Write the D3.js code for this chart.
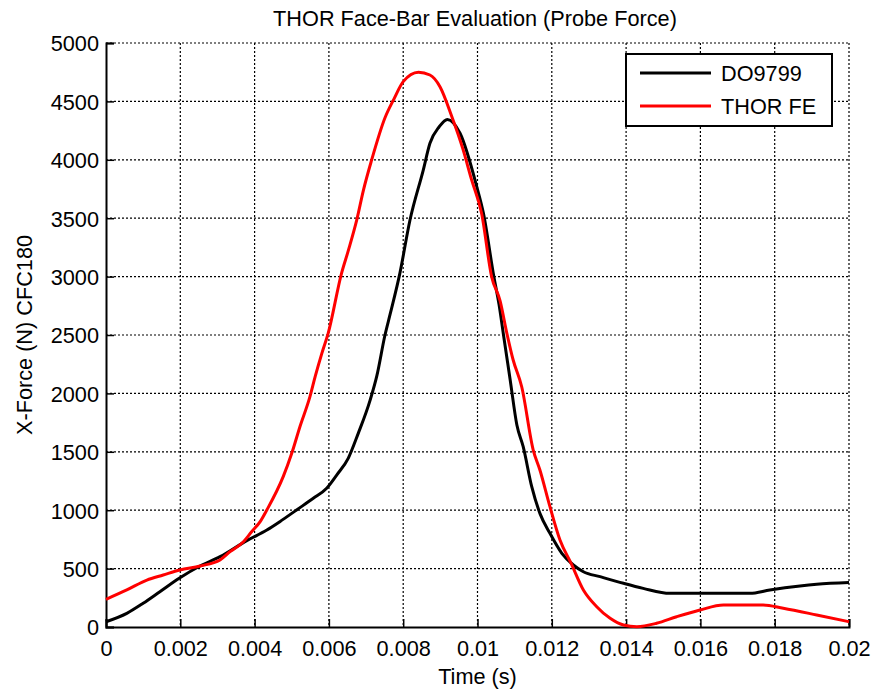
<!DOCTYPE html>
<html>
<head>
<meta charset="utf-8">
<script src="https://cdn.jsdelivr.net/npm/d3@7"></script>
<style>
  body { margin: 0; background: #fff; }
  svg text { font-family: "Liberation Sans", Arial, sans-serif; fill: #000; }
</style>
</head>
<body>
<div id="chart"></div>
<script>
// data (time in s, force in N)
var timeDO  = [0, 0.00056, 0.0010, 0.00145, 0.00197, 0.00253, 0.00307, 0.00379, 0.00433, 0.00468, 0.00513, 0.00558, 0.00594, 0.00621, 0.00652, 0.00679, 0.00711, 0.00729, 0.00751, 0.00765, 0.00791, 0.00818, 0.00854, 0.00872, 0.00897, 0.00919, 0.00953, 0.00998, 0.01016, 0.01044, 0.01058, 0.0107, 0.01088, 0.01106, 0.01123, 0.01146, 0.01168, 0.01195, 0.01227, 0.01258, 0.01285, 0.0133, 0.01393, 0.01446, 0.01518, 0.016, 0.01733, 0.01787, 0.01868, 0.01913, 0.02];
var forceDO = [45, 117, 203, 302, 417, 522, 602, 740, 830, 902, 1002, 1102, 1188, 1301, 1444, 1658, 1943, 2150, 2500, 2680, 3028, 3480, 3912, 4141, 4283, 4346, 4227, 3770, 3542, 3000, 2760, 2500, 2115, 1729, 1544, 1201, 973, 802, 631, 531, 473, 431, 374, 331, 288, 288, 288, 317, 351, 365, 380];

var timeFE  = [0, 0.00056, 0.0011, 0.00154, 0.00199, 0.00253, 0.00307, 0.00334, 0.0037, 0.00392, 0.00415, 0.00433, 0.00477, 0.005, 0.00522, 0.00549, 0.00563, 0.00581, 0.00598, 0.00634, 0.00652, 0.00675, 0.00693, 0.00715, 0.00751, 0.00775, 0.008, 0.00841, 0.00872, 0.00899, 0.00931, 0.0096, 0.00984, 0.01011, 0.01038, 0.01061, 0.01079, 0.01096, 0.01119, 0.0115, 0.01168, 0.01195, 0.01222, 0.01252, 0.01285, 0.01321, 0.01357, 0.01393, 0.01429, 0.01482, 0.01536, 0.01599, 0.01662, 0.01769, 0.01823, 0.01913, 0.02];
var forceFE = [237, 317, 402, 445, 488, 522, 574, 645, 730, 816, 902, 1002, 1287, 1487, 1715, 1972, 2143, 2343, 2514, 3028, 3220, 3485, 3741, 3998, 4360, 4520, 4669, 4750, 4726, 4626, 4369, 4100, 3830, 3542, 3000, 2790, 2515, 2286, 2057, 1515, 1344, 1030, 745, 545, 317, 174, 74, 17, 3, 32, 88, 146, 188, 188, 160, 103, 45];

var xTicks = [0, 0.002, 0.004, 0.006, 0.008, 0.01, 0.012, 0.014, 0.016, 0.018, 0.02];
var yTicks = [0, 500, 1000, 1500, 2000, 2500, 3000, 3500, 4000, 4500, 5000];
var seriesNames  = ["DO9799", "THOR FE"];
var seriesColors = ["#000000", "#ff0000"];

var W = 887, H = 690;
var margin = { top: 43, right: 38, bottom: 63, left: 106 };
var width = W - margin.left - margin.right;
var height = H - margin.top - margin.bottom;
var fontSize = "21.7px";

var svg = d3.select("#chart").append("svg")
    .attr("width", W)
    .attr("height", H);

var g = svg.append("g")
    .attr("transform", "translate(" + margin.left + "," + margin.top + ")");

var x = d3.scaleLinear().domain([0, 0.02]).range([0, width]);
var y = d3.scaleLinear().domain([0, 5000]).range([height, 0]);

var fmtX = function(d) { return d === 0 ? "0" : String(+d.toFixed(3)); };

// dotted grid (plus the top and right box edges, dotted like in the original)
g.append("g").selectAll("line").data(xTicks.slice(1)).enter().append("line")
    .attr("x1", d => x(d)).attr("x2", d => x(d))
    .attr("y1", 0).attr("y2", height)
    .attr("stroke", "#000").attr("stroke-width", 1.2)
    .attr("stroke-dasharray", "2,2");
g.append("g").selectAll("line").data(yTicks.slice(1)).enter().append("line")
    .attr("x1", 0).attr("x2", width)
    .attr("y1", d => y(d)).attr("y2", d => y(d))
    .attr("stroke", "#000").attr("stroke-width", 1.2)
    .attr("stroke-dasharray", "2,2");

// axes (ticks pointing inwards)
var xAxis = g.append("g")
    .attr("transform", "translate(0," + height + ")")
    .call(d3.axisBottom(x).tickValues(xTicks).tickSize(-8).tickPadding(14).tickFormat(fmtX));
var yAxis = g.append("g")
    .call(d3.axisLeft(y).tickValues(yTicks).tickSize(-8).tickPadding(7).tickFormat(d3.format("d")));

[xAxis, yAxis].forEach(function(a) {
  a.select(".domain").attr("stroke", "#000").attr("stroke-width", 2);
  a.selectAll(".tick line").attr("stroke", "#000").attr("stroke-width", 1.5);
  a.selectAll(".tick text").style("font-size", fontSize).attr("fill", "#000");
});
yAxis.selectAll(".tick text").attr("dy", "0.36em");

// lines
var line = d3.line()
    .x(d => x(d[0]))
    .y(d => y(d[1]))
    .curve(d3.curveMonotoneX);

var dataDO = timeDO.map((t, i) => [t, forceDO[i]]);
var dataFE = timeFE.map((t, i) => [t, forceFE[i]]);

g.append("path").datum(dataDO)
    .attr("d", line)
    .attr("fill", "none")
    .attr("stroke", seriesColors[0])
    .attr("stroke-width", 3);
g.append("path").datum(dataFE)
    .attr("d", line)
    .attr("fill", "none")
    .attr("stroke", seriesColors[1])
    .attr("stroke-width", 3);

// title and labels
svg.append("text")
    .attr("x", 475).attr("y", 26)
    .attr("text-anchor", "middle")
    .style("font-size", fontSize)
    .text("THOR Face-Bar Evaluation (Probe Force)");

svg.append("text")
    .attr("x", margin.left + width / 2).attr("y", 684)
    .attr("text-anchor", "middle")
    .style("font-size", fontSize)
    .text("Time (s)");

svg.append("text")
    .attr("transform", "translate(32," + (margin.top + height / 2) + ") rotate(-90)")
    .attr("text-anchor", "middle")
    .style("font-size", fontSize)
    .text("X-Force (N) CFC180");

// legend
var legend = svg.append("g").attr("transform", "translate(626,54)");
legend.append("rect")
    .attr("width", 206).attr("height", 72)
    .attr("fill", "#fff").attr("stroke", "#000").attr("stroke-width", 2);
seriesNames.forEach(function(name, i) {
  var ly = 19 + i * 33;
  legend.append("line")
      .attr("x1", 14).attr("x2", 85).attr("y1", ly).attr("y2", ly)
      .attr("stroke", seriesColors[i]).attr("stroke-width", 3);
  legend.append("text")
      .attr("x", 95).attr("y", ly).attr("dy", "0.36em")
      .style("font-size", fontSize)
      .text(name);
});
</script>
</body>
</html>
